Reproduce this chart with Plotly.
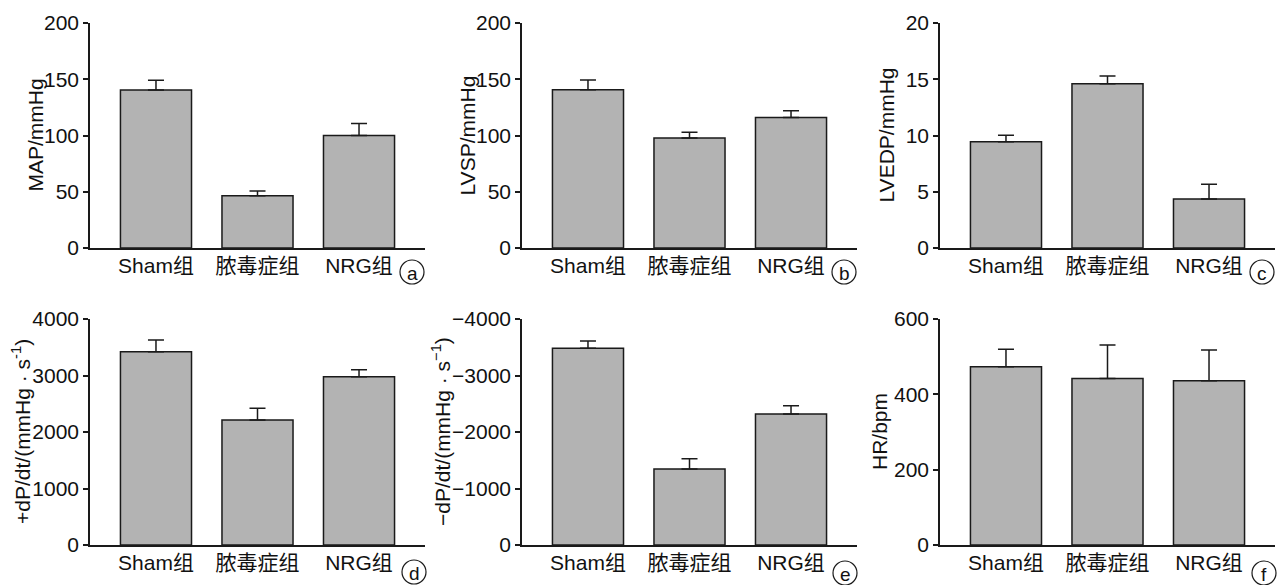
import plotly.graph_objects as go

W, H = 1284, 585

groups = ["Sham组", "脓毒症组", "NRG组"]

map_vals = [140.4, 46.5, 100.0]
map_err = [8.8, 4.2, 10.6]

lvsp_vals = [140.7, 97.8, 116.1]
lvsp_err = [8.6, 5.0, 5.9]

lvedp_vals = [9.45, 14.6, 4.36]
lvedp_err = [0.57, 0.68, 1.30]

dpdt_pos_vals = [3421, 2212, 2979]
dpdt_pos_err = [207, 207, 124]

dpdt_neg_vals = [-3481, -1346, -2319]
dpdt_neg_err = [130, 181, 146]

hr_vals = [473, 442, 436]
hr_err = [47, 89, 82]

y_titles = ["MAP/mmHg", "LVSP/mmHg", "LVEDP/mmHg",
            "+dP/dt/(mmHg · s<sup>-1</sup>)", "−dP/dt/(mmHg · s<sup>−1</sup>)", "HR/bpm"]
panel_letters = ["a", "b", "c", "d", "e", "f"]
y_ranges = [[0, 200], [0, 200], [0, 20], [0, 4000], [0, -4000], [0, 600]]
y_dticks = [50, 50, 5, 1000, 1000, 200]

series = [(map_vals, map_err), (lvsp_vals, lvsp_err), (lvedp_vals, lvedp_err),
          (dpdt_pos_vals, dpdt_pos_err), (dpdt_neg_vals, dpdt_neg_err), (hr_vals, hr_err)]

# pixel layout
col_px = [(90, 425), (522, 857), (940, 1275)]
row_px = [(23, 248), (319, 545)]
ytitle_x = [35, 467, 886, 21, 441, 879]
circ_c = [(412, 272), (844, 272), (1262, 272), (414, 572), (845, 573), (1264, 573)]

FONT = "Liberation Sans, Arial, Noto Sans CJK SC, sans-serif"
LINE = "#1a1a1a"
FS = 21
fig = go.Figure()
annotations = []
shapes = []

for i, ((vals, errs), yt, letter, yr, dt) in enumerate(
        zip(series, y_titles, panel_letters, y_ranges, y_dticks)):
    r, c = divmod(i, 3)
    n = "" if i == 0 else str(i + 1)
    xa, ya = "x" + n, "y" + n
    neg = yr[1] < 0
    fig.add_trace(go.Bar(
        x=groups, y=vals, xaxis=xa, yaxis=ya,
        marker=dict(color="#b3b3b3", line=dict(color=LINE, width=1.5)),
        width=0.7,
        error_y=dict(type="data", symmetric=False,
                     array=[0] * 3 if neg else errs,
                     arrayminus=errs if neg else [0] * 3,
                     color=LINE, thickness=1.5, width=8),
        showlegend=False,
    ))
    x0, x1 = col_px[c]
    ytop, ybot = row_px[r]
    fig.layout["xaxis" + n] = dict(
        domain=[x0 / W, x1 / W], anchor=ya, range=[-0.65, 2.65],
        showline=True, linecolor=LINE, linewidth=1.5, ticks="",
        ticklabelstandoff=-2,
        tickfont=dict(size=FS, color="#111", family=FONT),
        showgrid=False, zeroline=False, fixedrange=True, automargin=False,
    )
    fig.layout["yaxis" + n] = dict(
        domain=[1 - ybot / H, 1 - ytop / H], anchor=xa, range=yr,
        tick0=0, dtick=dt, showline=True, linecolor=LINE, linewidth=1.5,
        ticks="outside", ticklen=5, tickwidth=1.5, tickcolor=LINE,
        tickfont=dict(size=FS, color="#111", family=FONT),
        showgrid=False, zeroline=False, fixedrange=True, automargin=False,
    )
    annotations.append(dict(
        text=yt, textangle=-90, xref="paper", yref="paper",
        x=ytitle_x[i] / W, y=1 - (ytop + ybot) / 2 / H,
        xanchor="center", yanchor="middle", showarrow=False,
        font=dict(size=FS, color="#111", family=FONT),
    ))
    cx, cy = circ_c[i]
    rad = 12
    shapes.append(dict(
        type="circle", xref="paper", yref="paper",
        x0=(cx - rad) / W, x1=(cx + rad) / W,
        y0=1 - (cy + rad) / H, y1=1 - (cy - rad) / H,
        line=dict(color=LINE, width=1.2),
    ))
    annotations.append(dict(
        text=letter, xref="paper", yref="paper",
        x=cx / W, y=1 - (cy + 1) / H, xanchor="center", yanchor="middle",
        showarrow=False, font=dict(size=19, color="#111", family=FONT),
    ))

fig.update_layout(
    width=W, height=H, margin=dict(l=0, r=0, t=0, b=0, autoexpand=False),
    paper_bgcolor="white", plot_bgcolor="white",
    bargap=0.3, annotations=annotations, shapes=shapes,
    font=dict(family=FONT, color="#111"),
)

fig.write_html("out.html", config={"displayModeBar": False},
               post_script="document.body.style.margin='0';document.body.style.overflow='hidden';")
